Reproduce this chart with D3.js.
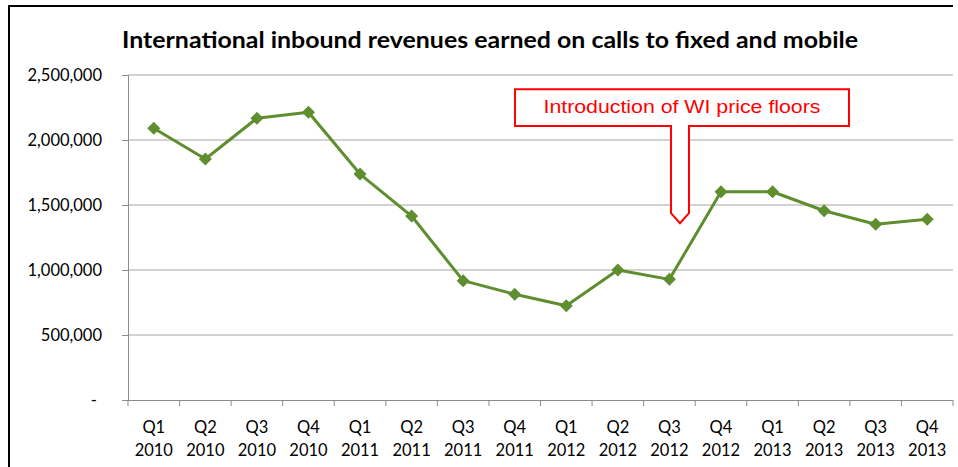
<!DOCTYPE html>
<html>
<head>
<meta charset="utf-8">
<script src="https://cdn.jsdelivr.net/npm/d3@7"></script>
<style>
  html, body { margin: 0; padding: 0; background: #fff; }
  svg { display: block; }
</style>
</head>
<body>
<svg id="chart" width="958" height="467"></svg>
<script>
// ---- data ----
const quarters = ["Q1","Q2","Q3","Q4","Q1","Q2","Q3","Q4","Q1","Q2","Q3","Q4","Q1","Q2","Q3","Q4"];
const years = ["2010","2010","2010","2010","2011","2011","2011","2011","2012","2012","2012","2012","2013","2013","2013","2013"];
const revenues = [2090000, 1854000, 2167000, 2213000, 1738000, 1415000, 918000, 813000, 725000, 1000000, 928000, 1602000, 1602000, 1456000, 1352000, 1390000];
const yTicks = [0, 500000, 1000000, 1500000, 2000000, 2500000];
const chartTitle = "International inbound revenues earned on calls to fixed and mobile";
const annotationLabel = "Introduction of WI price floors";
const annotationCategory = 10; // index of Q3 2012
const annotationTipValue = 1360000;
const annotationBoxTop = 2390000;
const annotationBoxBottom = 2108000;

const categories = quarters.map((q, i) => q + " " + years[i]);

// ---- layout ----
const svg = d3.select("#chart");
const pL = 128, pR = 953, pT = 75, pB = 400;

const x = d3.scaleBand().domain(categories).range([pL, pR]).padding(0);
const y = d3.scaleLinear().domain([0, 2500000]).range([pB, pT]);
const cx = d => x(d) + x.bandwidth() / 2;

// outer frame (top and left edges visible)
svg.append("path")
  .attr("d", `M9,467 V6 H953`)
  .attr("fill", "none").attr("stroke", "#000").attr("stroke-width", 2);

// title
svg.append("text")
  .attr("x", 122).attr("y", 48)
  .attr("textLength", 736).attr("lengthAdjust", "spacingAndGlyphs")
  .attr("font-family", "Lato, 'Open Sans', sans-serif")
  .attr("font-weight", "bold").attr("font-size", 23)
  .attr("fill", "#000")
  .text(chartTitle);

// gridlines
svg.append("g").selectAll("line")
  .data(yTicks.filter(d => d > 0))
  .join("line")
  .attr("x1", pL).attr("x2", pR)
  .attr("y1", d => y(d)).attr("y2", d => y(d))
  .attr("stroke", "#a6a6a6").attr("stroke-width", 1);

// y axis
const yAxis = svg.append("g")
  .attr("transform", `translate(${pL},0)`)
  .call(d3.axisLeft(y).tickValues(yTicks).tickSize(6).tickPadding(20)
    .tickFormat(d => d === 0 ? "-" : d3.format(",")(d)));
yAxis.select(".domain").attr("stroke", "#8c8c8c");
yAxis.selectAll(".tick line").attr("stroke", "#8c8c8c");
yAxis.selectAll(".tick text")
  .attr("font-family", "Lato, 'Open Sans', sans-serif")
  .attr("font-size", 16.5).attr("fill", "#000")
  .attr("dx", d => d === 0 ? -5 : 0);

// x axis
const xAxis = svg.append("g")
  .attr("transform", `translate(0,${pB})`)
  .call(d3.axisBottom(x).tickSize(0).tickFormat(""));
xAxis.select(".domain").attr("stroke", "#8c8c8c").attr("d", `M${pL - 6},0.5H${pR}`);
// tick marks between categories
svg.append("g").selectAll("line")
  .data(d3.range(categories.length + 1))
  .join("line")
  .attr("x1", i => pL + i * x.bandwidth()).attr("x2", i => pL + i * x.bandwidth())
  .attr("y1", pB).attr("y2", pB + 6)
  .attr("stroke", "#8c8c8c");
// two-line labels
const xl = svg.append("g").selectAll("text")
  .data(categories)
  .join("text")
  .attr("text-anchor", "middle")
  .attr("font-family", "Lato, 'Open Sans', sans-serif")
  .attr("font-size", 16.5).attr("fill", "#000");
xl.append("tspan").attr("x", d => cx(d)).attr("y", 433).text((d, i) => quarters[i]);
xl.append("tspan").attr("x", d => cx(d)).attr("y", 456).text((d, i) => years[i]);

// line
const data = categories.map((c, i) => ({ c, v: revenues[i] }));
svg.append("path")
  .datum(data)
  .attr("d", d3.line().x(d => cx(d.c)).y(d => y(d.v)))
  .attr("fill", "none").attr("stroke", "#5E8E2E").attr("stroke-width", 3)
  .attr("stroke-linejoin", "round");

// diamond markers
const r = 6.5;
svg.append("g").selectAll("path")
  .data(data)
  .join("path")
  .attr("d", d => {
    const px = cx(d.c), py = y(d.v);
    return `M${px},${py - r}L${px + r},${py}L${px},${py + r}L${px - r},${py}Z`;
  })
  .attr("fill", "#5E8E2E");

// annotation callout
const ax = x(categories[annotationCategory]) + x.bandwidth() * 0.705;
const tipY = y(annotationTipValue);
const bTop = y(annotationBoxTop), bBot = y(annotationBoxBottom);
const bL = ax - 165, bR = ax + 169;
const aw = 9, shaftEnd = tipY - 10;
svg.append("path")
  .attr("d", `M${bL},${bTop}H${bR}V${bBot}H${ax + aw}V${shaftEnd}L${ax},${tipY}L${ax - aw},${shaftEnd}V${bBot}H${bL}Z`)
  .attr("fill", "#fff").attr("stroke", "#ff0000").attr("stroke-width", 2);
svg.append("text")
  .attr("x", ax + 2).attr("y", bTop + 24)
  .attr("text-anchor", "middle")
  .attr("textLength", 277).attr("lengthAdjust", "spacingAndGlyphs")
  .attr("font-family", "'Liberation Sans', Arial, sans-serif")
  .attr("font-size", 18.5).attr("fill", "#ff0000")
  .text(annotationLabel);
</script>
</body>
</html>
